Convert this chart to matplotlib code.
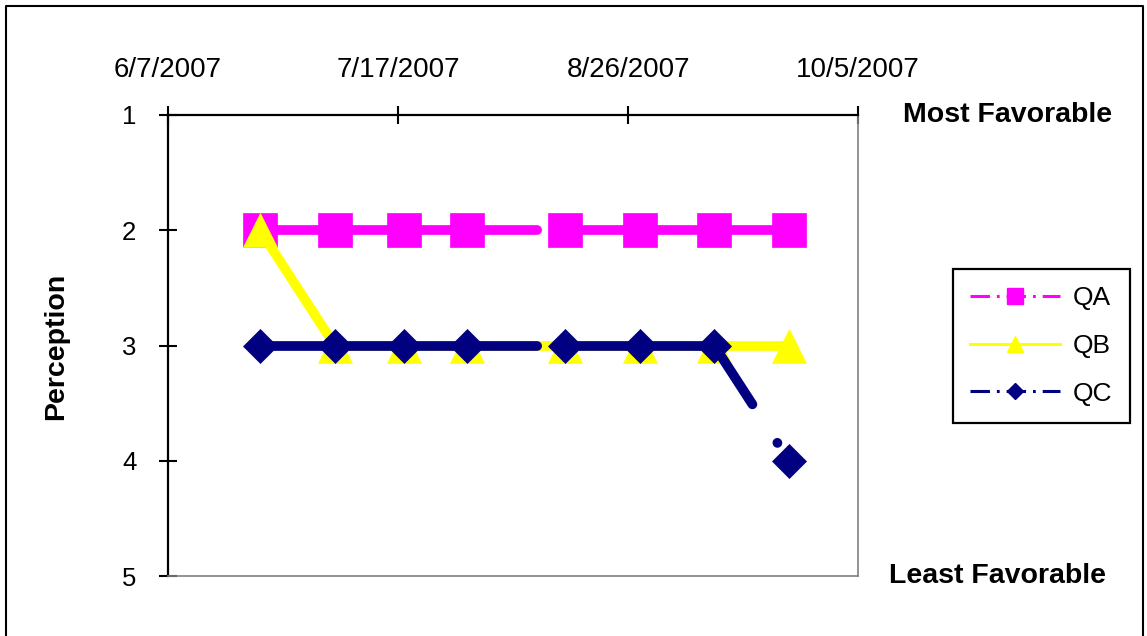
import datetime as dt
from matplotlib import pyplot as plt
from matplotlib.lines import Line2D

# data
dates = [dt.date(2007, 6, 23), dt.date(2007, 7, 6), dt.date(2007, 7, 18), dt.date(2007, 7, 29),
         dt.date(2007, 8, 15), dt.date(2007, 8, 28), dt.date(2007, 9, 10), dt.date(2007, 9, 23)]
qa = [2, 2, 2, 2, 2, 2, 2, 2]
qb = [2, 3, 3, 3, 3, 3, 3, 3]
qc = [3, 3, 3, 3, 3, 3, 3, 4]
series_names = ['QA', 'QB', 'QC']

date_ticks = [dt.date(2007, 6, 7), dt.date(2007, 7, 17), dt.date(2007, 8, 26), dt.date(2007, 10, 5)]
date_labels = ['6/7/2007', '7/17/2007', '8/26/2007', '10/5/2007']
y_ticks = [1, 2, 3, 4, 5]

plt.rcParams['font.family'] = ['Liberation Sans', 'DejaVu Sans']
plt.rcParams['lines.scale_dashes'] = False

W, H = 1147, 636
fig = plt.figure(figsize=(W / 100, H / 100), dpi=100)
ax = fig.add_axes([168 / W, 60 / H, 690 / W, 461 / H])

DASH = (50.5, 33, 0.1, 33)  # long dash, dot (Excel style), restarts at each point


def draw_series(x, y, color, marker, ms, dashed, z):
    for i in range(len(x) - 1):
        seg, = ax.plot(x[i:i + 2], y[i:i + 2], color=color, lw=7,
                       solid_capstyle='round', dash_capstyle='round',
                       zorder=z, clip_on=False)
        if dashed:
            seg.set_dashes(DASH)
    ax.plot(x, y, ls='none', marker=marker, ms=ms, color=color,
            mec=color, mew=0.5, zorder=z + 0.5, clip_on=False)


draw_series(dates, qa, '#FF00FF', 's', 24.5, True, 3)
draw_series(dates, qb, '#FFFF00', '^', 24.5, False, 4)
draw_series(dates, qc, '#000080', 'D', 17, True, 5)

ax.set_xlim(date_ticks[0], date_ticks[-1])
ax.set_ylim(5, 1)
ax.set_yticks(y_ticks)
ax.set_yticklabels([str(v) for v in y_ticks])

ax.xaxis.tick_top()
ax.set_xticks(date_ticks)
ax.set_xticklabels(date_labels)
ax.tick_params(axis='x', direction='inout', length=13.5, width=1.5, pad=16,
               labelsize=20, top=True, bottom=False)
ax.tick_params(axis='y', direction='inout', length=13.5, width=1.5, pad=16,
               labelsize=18.5, left=True, right=False)

for side in ['left', 'top']:
    ax.spines[side].set_color('black')
    ax.spines[side].set_linewidth(1.6)
for side in ['right', 'bottom']:
    ax.spines[side].set_color('#808080')
    ax.spines[side].set_linewidth(1.2)

fig.text(903 / W, 1 - 122 / H, 'Most Favorable', fontsize=20.5, fontweight='bold',
         ha='left', va='baseline')
fig.text(889 / W, 1 - 583 / H, 'Least Favorable', fontsize=20.5, fontweight='bold',
         ha='left', va='baseline')
fig.text(63 / W, 1 - 346 / H, 'Perception', fontsize=20.5, fontweight='bold',
         rotation=90, rotation_mode='anchor', ha='center', va='baseline')

handles = [
    Line2D([], [], color='#FF00FF', lw=2.2, marker='s', ms=11, dashes=(14, 5, 2, 5)),
    Line2D([], [], color='#FFFF00', lw=2.2, marker='^', ms=12),
    Line2D([], [], color='#000080', lw=2.2, marker='D', ms=8, dashes=(14, 5, 2, 5)),
]
leg = fig.legend(handles, series_names, loc='upper left',
                 bbox_to_anchor=(953 / W, 1 - 269 / H), bbox_transform=fig.transFigure,
                 frameon=True, fancybox=False, framealpha=1, edgecolor='black',
                 borderaxespad=0, handlelength=3.4, handletextpad=0.5,
                 labelspacing=0.9, borderpad=0.65, fontsize=19)
leg.get_frame().set_linewidth(1.6)

# outer chart border
fig.add_artist(Line2D([6 / W, 6 / W, 1143 / W, 1143 / W], [0, 1 - 6 / H, 1 - 6 / H, 0],
                      color='black', lw=1.5, transform=fig.transFigure))

fig.savefig('out.png', dpi=100)
